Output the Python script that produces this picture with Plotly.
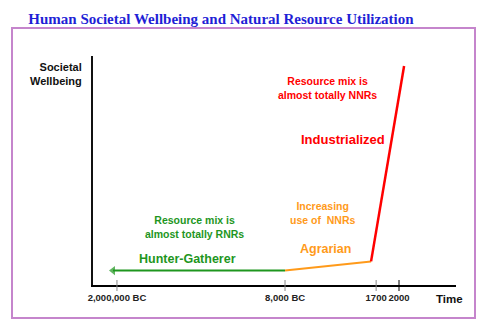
import plotly.graph_objects as go

# Schematic time axis (0-100 positional units) and wellbeing scale (0-100)
era_labels = ["2,000,000 BC", "8,000 BC", "1700", "2000"]
era_x = [6.6, 52.9, 78.0, 84.3]

hunter_x = [52.9, 5.5]
hunter_y = [6.3, 6.3]

agrarian_x = [52.9, 76.6]
agrarian_y = [6.3, 10.3]

industrial_x = [76.6, 85.7]
industrial_y = [10.3, 95.6]

W, H = 481, 329
L, R, T, B = 93, 25, 56, 44
PW, PH = W - L - R, H - T - B

GREEN = "#1E961E"
ORANGE = "#FF9A1A"
RED = "#FF0000"
FONT = "Liberation Sans, Arial, sans-serif"


def px(x):
    return (x - L) / PW


def py(y):
    return (H - B - y) / PH


fig = go.Figure()

fig.add_trace(go.Scatter(
    x=hunter_x, y=hunter_y, mode="lines+markers",
    line=dict(color=GREEN, width=2),
    marker=dict(symbol="triangle-left", size=[0, 8], color=GREEN, line=dict(width=0)),
    hoverinfo="skip", showlegend=False,
))
fig.add_trace(go.Scatter(
    x=agrarian_x, y=agrarian_y, mode="lines",
    line=dict(color=ORANGE, width=2),
    hoverinfo="skip", showlegend=False,
))
fig.add_trace(go.Scatter(
    x=industrial_x, y=industrial_y, mode="lines",
    line=dict(color=RED, width=2.5),
    hoverinfo="skip", showlegend=False,
))

# frame around the diagram
fig.add_shape(type="rect", xref="paper", yref="paper",
              x0=px(12), x1=px(475), y0=py(318), y1=py(28),
              line=dict(color="#C585CC", width=2), layer="below")

# era ticks crossing the time axis
for i, xv in enumerate(era_x):
    fig.add_shape(type="line", xref="x", yref="paper",
                  x0=xv, x1=xv, y0=py(291), y1=py(280),
                  line=dict(color="#000000" if i == 3 else "#888888", width=1))


def note(text, x, y, color, size, xanchor="center", align="center"):
    fig.add_annotation(text=text, xref="paper", yref="paper", x=px(x), y=py(y),
                       xanchor=xanchor, yanchor="middle", align=align, showarrow=False,
                       font=dict(family=FONT, size=size, color=color))


note("<b>Societal<br>Wellbeing</b>", 84, 73.5, "#111111", 11, xanchor="right", align="right")
note("<b>Resource mix is<br>almost totally NNRs</b>", 327.5, 88, RED, 10.5)
note("<b>Industrialized</b>", 342.5, 139, RED, 13)
note("<b>Increasing<br>use of  NNRs</b>", 323, 212.5, ORANGE, 10.5)
note("<b>Agrarian</b>", 325, 249, ORANGE, 12.5)
note("<b>Resource mix is<br>almost totally RNRs</b>", 194, 226.5, GREEN, 10.5)
note("<b>Hunter-Gatherer</b>", 187.5, 259, GREEN, 12.5)
note("<b>Time</b>", 449, 298.5, "#111111", 11.5)

fig.update_layout(
    width=W, height=H,
    margin=dict(l=L, r=R, t=T, b=B),
    paper_bgcolor="white", plot_bgcolor="white",
    title=dict(text="<b>Human Societal Wellbeing and Natural Resource Utilization</b>",
               x=px(221), y=1 - 18.5 / H, xref="paper", xanchor="center", yanchor="middle",
               font=dict(family="Liberation Serif, Times New Roman, serif", size=15,
                         color="#1F1FD6")),
    xaxis=dict(range=[0, 100], showgrid=False, zeroline=False,
               showline=True, linecolor="#000000", linewidth=1.5,
               tickvals=era_x, ticktext=[f"<b>{t}</b>" for t in era_labels],
               tickangle=0,
               ticks="outside", ticklen=3, tickcolor="rgba(0,0,0,0)", tickwidth=1,
               tickfont=dict(family=FONT, size=9.5, color="#222222")),
    yaxis=dict(range=[0, 100], showgrid=False, zeroline=False,
               showline=True, linecolor="#111111", linewidth=2,
               showticklabels=False, ticks=""),
)

fig.write_html("out.html")
